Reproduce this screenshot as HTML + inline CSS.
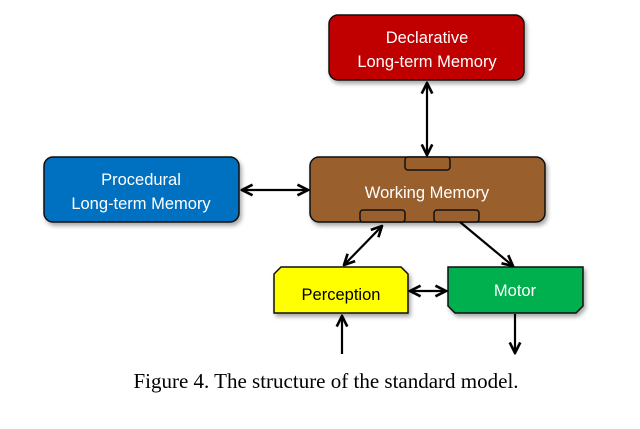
<!DOCTYPE html>
<html><head><meta charset="utf-8"><style>
body{margin:0;background:#fff;width:640px;height:424px;overflow:hidden}
svg text{font-family:"Liberation Sans",sans-serif}
</style></head><body>
<svg width="640" height="424" viewBox="0 0 640 424">
<defs>
<filter id="sh" x="-10%" y="-10%" width="130%" height="140%"><feDropShadow dx="2" dy="3" stdDeviation="2" flood-color="#000" flood-opacity="0.35"/></filter>
<marker id="a" viewBox="0 0 10 10" refX="9" refY="5" markerWidth="6" markerHeight="6" orient="auto-start-reverse"><path d="M1,1 L9,5 L1,9" fill="none" stroke="#000" stroke-width="2"/></marker>
</defs>
<g stroke="#111" stroke-width="1.5">
<rect x="329" y="15" width="195" height="65" rx="9" fill="#c00000" filter="url(#sh)"/>
<rect x="44" y="157" width="195" height="65" rx="9" fill="#0070c0" filter="url(#sh)"/>
<rect x="310" y="157" width="235" height="65" rx="9" fill="#99602e" filter="url(#sh)"/>
<rect x="405" y="157" width="45" height="13" rx="3" fill="#99602e"/>
<rect x="360" y="210" width="45" height="12" rx="3" fill="#99602e"/>
<rect x="434" y="210" width="45" height="12" rx="3" fill="#99602e"/>
<path d="M281,267 L401,267 L408,274 L408,313 L274,313 L274,274 Z" fill="#ffff00" filter="url(#sh)"/>
<path d="M448,267 L583,267 L583,306 L576,313 L455,313 L448,306 Z" fill="#00b050" filter="url(#sh)"/>
</g>
<g stroke="#000" stroke-width="2.2" fill="none">
<line x1="427" y1="83" x2="427" y2="155" marker-start="url(#a)" marker-end="url(#a)"/>
<line x1="242" y1="190" x2="308" y2="190" marker-start="url(#a)" marker-end="url(#a)"/>
<line x1="382" y1="226" x2="344" y2="265" marker-start="url(#a)" marker-end="url(#a)"/>
<line x1="460" y1="222" x2="513" y2="266" marker-end="url(#a)"/>
<line x1="410" y1="291" x2="446" y2="291" marker-start="url(#a)" marker-end="url(#a)"/>
<line x1="342" y1="354" x2="342" y2="316" marker-end="url(#a)"/>
<line x1="515" y1="314" x2="515" y2="353" marker-end="url(#a)"/>
</g>
<g fill="#fff" font-size="16.5" text-anchor="middle">
<text x="427" y="43">Declarative</text>
<text x="427" y="67">Long-term Memory</text>
<text x="141" y="185">Procedural</text>
<text x="141" y="209">Long-term Memory</text>
<text x="427" y="198">Working Memory</text>
<text x="515" y="296">Motor</text>
</g>
<text x="341" y="300" font-size="16.5" text-anchor="middle" fill="#000">Perception</text>
<text x="326" y="388" font-size="21" text-anchor="middle" fill="#000" style="font-family:'Liberation Serif',serif">Figure 4. The structure of the standard model.</text>
</svg>
</body></html>
